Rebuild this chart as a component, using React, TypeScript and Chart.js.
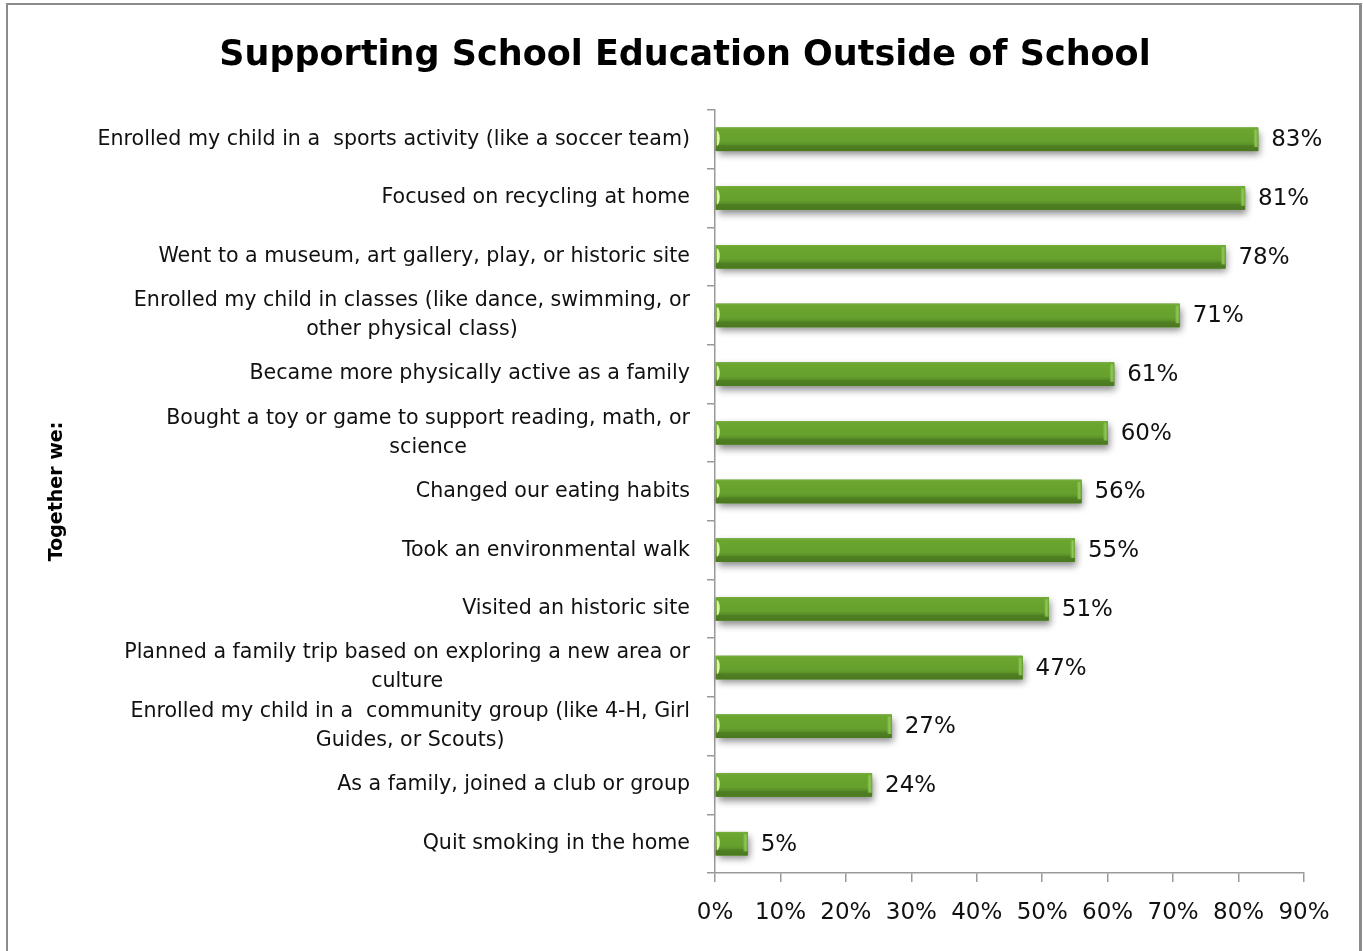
import React, { useEffect, useRef } from "react";
import { Chart, registerables } from "chart.js";

Chart.register(...registerables);

const TITLE = "Supporting School Education Outside of School";
const Y_TITLE = "Together we:";

const categories: (string | string[])[] = [
  "Enrolled my child in a  sports activity (like a soccer team)",
  "Focused on recycling at home",
  "Went to a museum, art gallery, play, or historic site",
  ["Enrolled my child in classes (like dance, swimming, or", "other physical class)"],
  "Became more physically active as a family",
  ["Bought a toy or game to support reading, math, or", "science"],
  "Changed our eating habits",
  "Took an environmental walk",
  "Visited an historic site",
  ["Planned a family trip based on exploring a new area or", "culture"],
  ["Enrolled my child in a  community group (like 4-H, Girl", "Guides, or Scouts)"],
  "As a family, joined a club or group",
  "Quit smoking in the home",
];

const percentages: number[] = [83, 81, 78, 71, 61, 60, 56, 55, 51, 47, 27, 24, 5];

const xTickValues: number[] = [0, 10, 20, 30, 40, 50, 60, 70, 80, 90];

const FONT = "'DejaVu Sans', 'Noto Sans', sans-serif";
const AXIS_COLOR = "#9a9a9a";

export default function App() {
  const canvasRef = useRef<HTMLCanvasElement | null>(null);

  useEffect(() => {
    document.body.style.margin = "0";
    const canvas = canvasRef.current;
    if (!canvas) return;

    const decorPlugin = {
      id: "decor",
      beforeDatasetsDraw(chart: any) {
        const ctx = chart.ctx;
        const meta = chart.getDatasetMeta(0);
        ctx.save();
        meta.data.forEach((el: any) => {
          const p = el.getProps(["x", "y", "base", "height"], true);
          const left = Math.min(p.base, p.x);
          const w = Math.abs(p.x - p.base);
          const top = p.y - p.height / 2;
          ctx.shadowColor = "rgba(0,0,0,0.45)";
          ctx.shadowBlur = 7;
          ctx.shadowOffsetX = 2;
          ctx.shadowOffsetY = 4;
          ctx.fillStyle = "#5a8f28";
          ctx.fillRect(left, top, w, p.height);
        });
        ctx.restore();
      },
      afterDatasetsDraw(chart: any) {
        const ctx = chart.ctx;
        const meta = chart.getDatasetMeta(0);
        ctx.save();
        meta.data.forEach((el: any, i: number) => {
          const p = el.getProps(["x", "y", "base", "height"], true);
          const left = Math.min(p.base, p.x);
          const right = Math.max(p.base, p.x);
          const w = right - left;
          const top = p.y - p.height / 2;
          const h = p.height;
          const g = ctx.createLinearGradient(0, top, 0, top + h);
          g.addColorStop(0, "#78b03c");
          g.addColorStop(0.08, "#6ba62f");
          g.addColorStop(0.6, "#66a02d");
          g.addColorStop(0.72, "#5b9128");
          g.addColorStop(0.78, "#4f7f22");
          g.addColorStop(1, "#4a7820");
          ctx.fillStyle = g;
          ctx.fillRect(left, top, w, h);
          // right end highlight
          const gr = ctx.createLinearGradient(right - 5, 0, right, 0);
          gr.addColorStop(0, "rgba(140,196,84,0)");
          gr.addColorStop(0.5, "rgba(150,205,95,0.9)");
          gr.addColorStop(1, "rgba(110,165,55,1)");
          ctx.fillStyle = gr;
          ctx.fillRect(right - 5, top + 2, 5, h - 6);
          // left end crescent
          ctx.fillStyle = "#dcf7a2";
          ctx.beginPath();
          ctx.ellipse(left + 1, p.y - 1, 3, h * 0.32, 0, -Math.PI / 2, Math.PI / 2);
          ctx.fill();
          // value label
          ctx.fillStyle = "#111";
          ctx.font = `23px ${FONT}`;
          ctx.textAlign = "left";
          ctx.textBaseline = "middle";
          ctx.fillText(`${percentages[i]}%`, right + 13, p.y + 1);
        });
        ctx.restore();
      },
      afterDraw(chart: any) {
        const ctx = chart.ctx;
        const yScale = chart.scales.y;
        ctx.save();
        // category labels
        ctx.fillStyle = "#111";
        ctx.font = `20.6px ${FONT}`;
        ctx.textAlign = "center";
        ctx.textBaseline = "middle";
        categories.forEach((c, i) => {
          const lines = Array.isArray(c) ? c : [c];
          const yc = yScale.getPixelForValue(i);
          const lh = 29;
          const maxW = Math.max(...lines.map((l) => ctx.measureText(l).width));
          const cx = 690 - maxW / 2;
          lines.forEach((l, j) => {
            ctx.fillText(l, cx, yc - ((lines.length - 1) * lh) / 2 + j * lh);
          });
        });
        // title
        ctx.font = `bold 35px ${FONT}`;
        ctx.textAlign = "center";
        ctx.textBaseline = "alphabetic";
        ctx.fillStyle = "#000";
        ctx.fillText(TITLE, 685, 65);
        // y axis title
        ctx.translate(57, (chart.chartArea.top + chart.chartArea.bottom) / 2);
        ctx.rotate(-Math.PI / 2);
        ctx.font = `bold 19px ${FONT}`;
        ctx.textBaseline = "middle";
        ctx.fillText(Y_TITLE, 0, 0);
        ctx.restore();
      },
    };

    const chart = new Chart(canvas, {
      type: "bar",
      data: {
        labels: categories,
        datasets: [
          {
            data: percentages,
            backgroundColor: "#66a02d",
            borderWidth: 0,
            categoryPercentage: 1,
            barPercentage: 0.4,
          },
        ],
      },
      options: {
        indexAxis: "y",
        animation: false,
        responsive: false,
        devicePixelRatio: 1,
        layout: { padding: { top: 110, left: 0, right: 59, bottom: 0 } },
        plugins: {
          legend: { display: false },
          title: { display: false },
          tooltip: { enabled: false },
        },
        scales: {
          x: {
            min: 0,
            max: 90,
            afterBuildTicks: (scale: any) => {
              scale.ticks = xTickValues.map((v) => ({ value: v }));
            },
            afterFit: (scale: any) => {
              scale.height = 78;
            },
            grid: {
              drawOnChartArea: false,
              drawTicks: true,
              tickLength: 9,
              color: AXIS_COLOR,
              lineWidth: 1.5,
            },
            border: { display: true, color: AXIS_COLOR, width: 1.5 },
            ticks: {
              callback: (v: any) => `${v}%`,
              color: "#111",
              font: { family: FONT, size: 23 },
              padding: 17,
              maxRotation: 0,
              autoSkip: false,
            },
          },
          y: {
            afterFit: (scale: any) => {
              scale.width = 715;
            },
            grid: {
              drawOnChartArea: false,
              drawTicks: true,
              tickLength: 8,
              color: AXIS_COLOR,
              lineWidth: 1.5,
              offset: true,
            },
            border: { display: true, color: AXIS_COLOR, width: 1.5 },
            ticks: { display: false },
          },
        },
      },
      plugins: [decorPlugin],
    });

    return () => {
      chart.destroy();
    };
  }, []);

  return (
    <div style={{ position: "relative", width: 1363, height: 951, overflow: "hidden", background: "#fff" }}>
      <div
        style={{
          position: "absolute",
          left: 6,
          top: 3,
          width: 1351,
          height: 980,
          borderTop: "2px solid #8c8c8c",
          borderLeft: "2px solid #8c8c8c",
          borderRight: "3px solid #8c8c8c",
        }}
      />
      <canvas ref={canvasRef} width={1363} height={951} style={{ position: "absolute", left: 0, top: 0, display: "block" }} />
    </div>
  );
}
